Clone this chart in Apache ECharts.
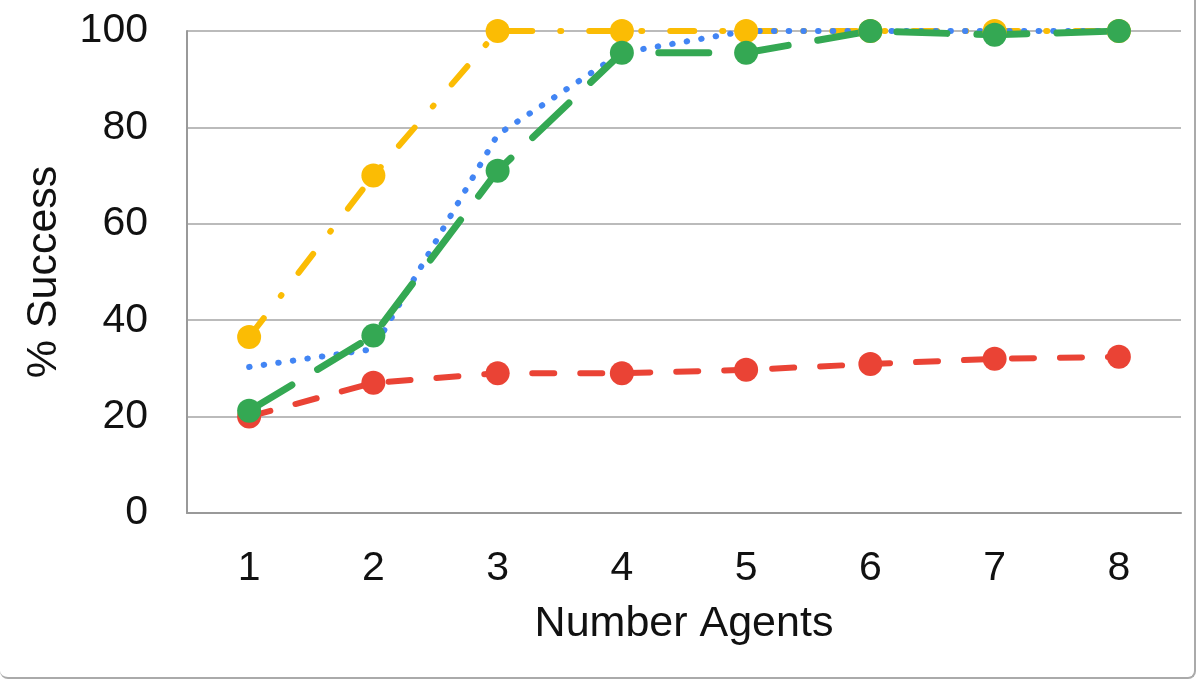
<!DOCTYPE html>
<html style="height: 100%">

<head>
  <meta charset="utf-8">
  <script type="text/javascript" src="https://cdn.jsdelivr.net/npm/echarts@6/dist/echarts.min.js"></script>
  <style>
    html, body { margin: 0; padding: 0; background: #fff; }
    #frame {
      width: 1196px; height: 679px; box-sizing: border-box;
      border-right: 2px solid #aaa; border-bottom: 2px solid #aaa;
      border-bottom-left-radius: 8px; border-bottom-right-radius: 8px;
      position: relative; overflow: hidden;
    }
    #container { width: 1196px; height: 679px; position: absolute; left: 0; top: 0; }
  </style>
</head>

<body>
  <div id="frame"><div id="container"></div></div>
  <script type="text/javascript">
    var agents = ['1', '2', '3', '4', '5', '6', '7', '8'];
    var redVals = [20, 27, 29, 29, 29.7, 30.9, 32, 32.4];
    var yellowVals = [36.5, 70, 100, 100, 100, 100, 100, 100];
    var blueVals = [30.3, 34, 78.5, 95.5, 100, 100, 100, 100];
    var greenVals = [21.2, 36.8, 71, 95.5, 95.5, 100, 99.2, 100];
    var yTicks = { min: 0, max: 100, interval: 20 };

    var _font = 'Liberation Sans, Arial, sans-serif';
    var dom = document.getElementById("container");
    var myChart = echarts.init(dom);

    function lineSeries(name, data, color, width, dash, marker) {
      return {
        name: name,
        type: 'line',
        data: data,
        symbol: marker ? 'circle' : 'none',
        symbolSize: 24,
        itemStyle: { color: color },
        lineStyle: { color: color, width: width, type: dash, cap: 'round' },
        emphasis: { disabled: true },
        animation: false
      };
    }

    var option = {
      animation: false,
      grid: { left: 187, right: 15, top: 31, bottom: 166, containLabel: false },
      xAxis: {
        type: 'category',
        data: agents,
        boundaryGap: true,
        name: 'Number Agents',
        nameLocation: 'middle',
        nameGap: 90,
        nameTextStyle: { fontFamily: _font, fontSize: 43, color: '#111' },
        axisTick: { show: false },
        axisLine: { lineStyle: { color: '#999', width: 2 } },
        axisLabel: { fontFamily: _font, fontSize: 41, color: '#111', margin: 35 }
      },
      yAxis: {
        type: 'value',
        min: yTicks.min,
        max: yTicks.max,
        interval: yTicks.interval,
        name: '% Success',
        nameLocation: 'middle',
        nameGap: 121,
        nameTextStyle: { fontFamily: _font, fontSize: 43, color: '#111' },
        axisLine: { show: true, lineStyle: { color: '#999', width: 2 } },
        axisTick: { show: false },
        splitLine: { lineStyle: { color: '#bbb', width: 2 } },
        axisLabel: { fontFamily: _font, fontSize: 41, color: '#111', margin: 39 }
      },
      series: [
        lineSeries('red', redVals, '#EA4335', 6, [22, 26], true),
        lineSeries('yellow', yellowVals, '#FBBC04', 6, [24, 28, 1, 28], true),
        lineSeries('blue', blueVals, '#4285F4', 6, [0.5, 14.2], false),
        lineSeries('green', greenVals, '#34A853', 7, [50, 30], true)
      ]
    };
    myChart.setOption(option);
  </script>
</body>

</html>
